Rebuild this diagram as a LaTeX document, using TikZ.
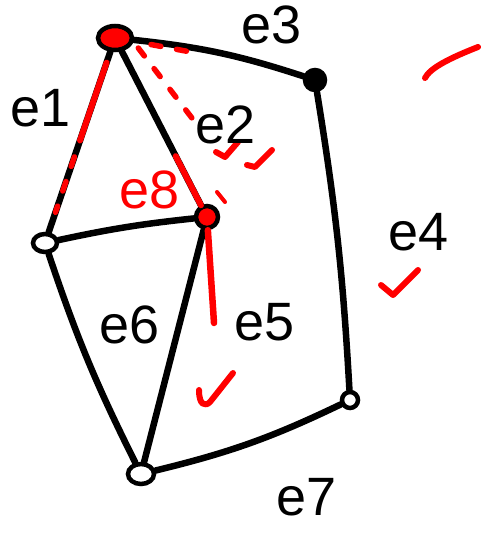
\documentclass[tikz,border=0pt]{standalone}
\usepackage{fontspec}
\setmainfont{Liberation Sans}
\usetikzlibrary{shapes.geometric,calc}
\begin{document}
\begin{tikzpicture}[x=1pt,y=-1pt,
  edge/.style={line width=6.5pt,line cap=round},
  rmark/.style={red,line width=6pt,line cap=round,line join=round},
  rdash/.style={red,line width=5.5pt,line cap=round,dash pattern=on 10pt off 16pt},
  lab/.style={font=\fontsize{54}{54}\selectfont,inner sep=0pt},
  vopen/.style={ellipse,draw,line width=4.5pt,fill=white,minimum width=24pt,minimum height=18pt,inner sep=0pt},
  vred/.style={ellipse,draw,line width=4.5pt,fill=red,inner sep=0pt},
  vblack/.style={circle,draw,line width=4.5pt,fill=black,inner sep=0pt,minimum size=20pt}
]
\useasboundingbox (0,0) rectangle (480,535);
% vertices
\node[vred,minimum width=34pt,minimum height=24pt] (A) at (115,38) {};
\node[vblack] (B) at (315,80) {};
\node[vopen] (C) at (45,243) {};
\node[vred,circle,minimum size=22pt] (D) at (207,217) {};
\node[vopen,minimum width=26pt,minimum height=20pt] (E) at (141,474) {};
\node[vopen,circle,minimum size=16pt] (F) at (350,400) {};
% edges
\draw[edge] (A) to[bend left=6] (B);
\draw[edge] (A) -- (C);
\draw[edge] (A) -- (D);
\draw[edge] (C) to[bend left=3] (D);
\draw[edge] (B) to[bend left=3] (F);
\draw[edge] (C) to[bend right=4] (E);
\draw[edge] (D) -- (E);
\draw[edge] (E) to[bend right=6] (F);
% red markings
\draw[rmark] ($(A)!0.12!(C)$) -- ($(A)!0.5!(C)$);
\draw[rdash] ($(A)!0.58!(C)$) -- ($(A)!0.85!(C)$);
\draw[rdash] ($(A.east)+(4,10)$) -- ($(D)+(-12,-95)$);
\draw[rmark] ($(A)!0.66!(D)$) -- (D);
\draw[rmark,line width=4pt] ($(D)+(10,-25)$) -- ($(D)+(18,-15)$);
\draw[rdash] ($(A)!0.18!(B)+(0,-1)$) -- ($(A)!0.4!(B)+(0,-2)$);
\coordinate (r1) at (214,323);
\draw[rmark,line width=6.5pt] (D) -- (r1);
% check marks
\draw[rmark] (216,152) -- (225,157) -- (238,142);
\draw[rmark] (247,165) -- (255,167) -- (272,150);
\draw[rmark] (381,285) -- (393,295) -- (418,270);
\draw[rmark] (199,390) .. controls (199,405) and (205,407) .. (210,402) -- (233,373);
\draw[rmark] (425,78) .. controls (430,68) and (450,58) .. (478,47);
% labels
\node[lab] (l1) at (41,108) {e1};
\node[lab] (l2) at (226,125) {e2};
\node[lab] (l3) at (272,25) {e3};
\node[lab] (l4) at (419,232) {e4};
\node[lab] (l5) at (265,322) {e5};
\node[lab] (l6) at (130,325) {e6};
\node[lab] (l7) at (307,497) {e7};
\node[lab,red] (l8) at (150,190) {e8};
\end{tikzpicture}
\end{document}
